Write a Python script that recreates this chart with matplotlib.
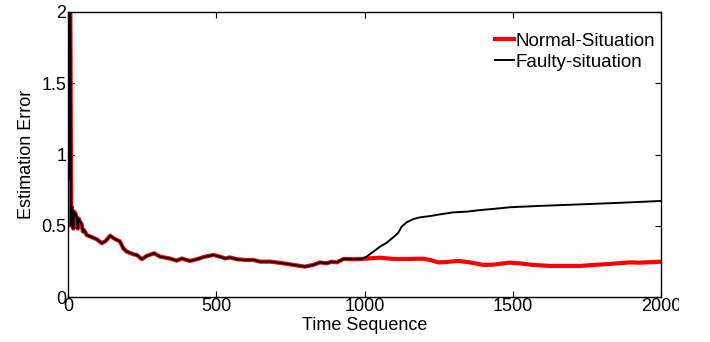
import matplotlib
matplotlib.use("Agg")
from matplotlib import pyplot as plt
from matplotlib.transforms import Bbox, TransformedBbox

plt.rcParams['font.family'] = ['Liberation Sans', 'DejaVu Sans']

# data
# shared part of both curves (identical until ~t=990)
common_t = [5, 8, 11, 13, 18, 20, 24, 29, 33, 36, 40, 46, 50, 54, 63, 80, 97, 114,
            128, 142, 158, 175, 187, 198, 220, 232, 249, 265, 290, 310, 344, 366,
            383, 411, 434, 462, 490, 513, 530, 546, 569, 597, 625, 648, 681, 715,
            749, 782, 799, 827, 850, 872, 889, 906, 929, 962, 990]
common_v = [2.0, 2.0, 0.5, 0.63, 0.48, 0.6, 0.59, 0.56, 0.48, 0.55, 0.53, 0.51, 0.46,
            0.47, 0.435, 0.42, 0.405, 0.377, 0.395, 0.43, 0.407, 0.39, 0.34, 0.318,
            0.30, 0.295, 0.265, 0.288, 0.307, 0.283, 0.27, 0.255, 0.27, 0.253, 0.265,
            0.283, 0.295, 0.283, 0.27, 0.278, 0.265, 0.26, 0.26, 0.248, 0.248, 0.24,
            0.229, 0.218, 0.213, 0.225, 0.243, 0.236, 0.248, 0.243, 0.267, 0.265, 0.267]

normal_head_t = [2]
normal_head_v = [0.9]
normal_tail_t = [1052, 1097, 1142, 1198, 1221, 1249, 1277, 1316, 1356, 1401, 1434, 1468,
                 1491, 1524, 1569, 1626, 1682, 1727, 1772, 1828, 1895, 1929, 2000]
normal_tail_v = [0.276, 0.267, 0.267, 0.269, 0.26, 0.243, 0.246, 0.253, 0.243, 0.225,
                 0.227, 0.236, 0.241, 0.236, 0.225, 0.218, 0.218, 0.218, 0.225, 0.232,
                 0.243, 0.241, 0.248]

faulty_head_t = [0, 2]
faulty_head_v = [1.29, 0.82]
faulty_tail_t = [1007, 1030, 1052, 1075, 1097, 1114, 1125, 1142, 1165, 1187, 1221, 1255,
                 1300, 1345, 1390, 1434, 1491, 1600, 1727, 1850, 2000]
faulty_tail_v = [0.283, 0.318, 0.353, 0.381, 0.419, 0.451, 0.493, 0.524, 0.547, 0.559,
                 0.568, 0.58, 0.594, 0.599, 0.61, 0.618, 0.63, 0.64, 0.65, 0.66, 0.674]

normal_t = normal_head_t + common_t + normal_tail_t
normal_v = normal_head_v + common_v + normal_tail_v
faulty_t = faulty_head_t + common_t + faulty_tail_t
faulty_v = faulty_head_v + common_v + faulty_tail_v

fig = plt.figure(figsize=(7.10, 3.42), dpi=100)
ax = fig.add_axes([68/710, 45/342, (661-68)/710, (297-12)/342])

ax.plot(normal_t, normal_v, color="red", lw=3, label="Normal-Situation")
ax.plot(faulty_t, faulty_v, color="black", lw=1.4, label="Faulty-situation")

ax.set_xlim(0, 2000)
ax.set_ylim(0, 2)
ax.set_xticks([0, 500, 1000, 1500, 2000])
ax.set_yticks([0, 0.5, 1, 1.5, 2])
ax.set_xticklabels(["0", "500", "1000", "1500", "2000"])
ax.set_yticklabels(["0", "0.5", "1", "1.5", "2"])
ax.tick_params(direction="in", length=4, width=0.8, top=True, right=True,
               labelsize=13, pad=1)
for s in ax.spines.values():
    s.set_linewidth(1.0)

ax.set_xlabel("Time Sequence", fontsize=13, labelpad=1)
ax.set_ylabel("Estimation Error", fontsize=13, labelpad=5)

leg = ax.legend(loc="upper right", bbox_to_anchor=(1.0, 0.947), frameon=False,
                fontsize=13.5, handlelength=1.0, handletextpad=0.1,
                labelspacing=0.2, borderaxespad=0, borderpad=0.3)

# the original picture is cut at the right edge
clip = TransformedBbox(Bbox([[0, 0], [679/710, 1]]), fig.transFigure)
for lab in ax.get_xticklabels():
    lab.set_clip_box(clip)
    lab.set_clip_on(True)

fig.savefig("out.png", dpi=100)
